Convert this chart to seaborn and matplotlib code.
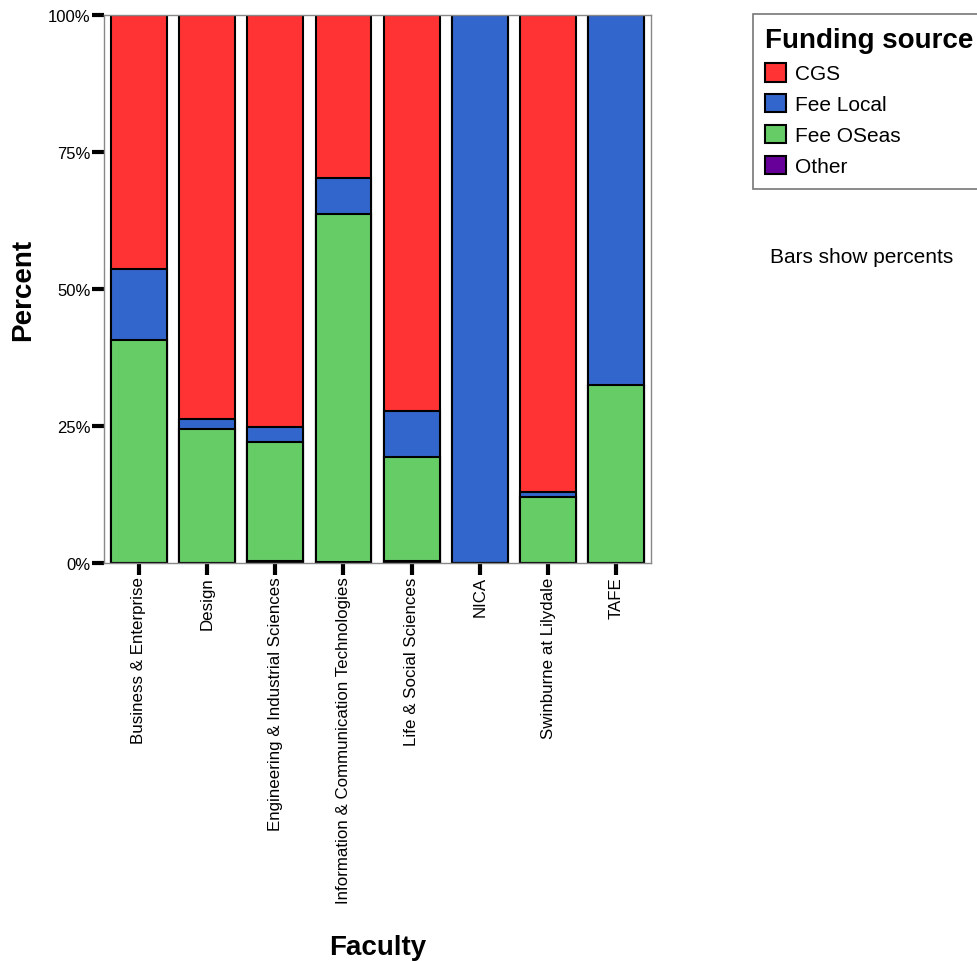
import pandas as pd
import matplotlib.pyplot as plt
import seaborn as sns
from matplotlib.patches import Patch
from matplotlib.ticker import PercentFormatter

faculties = ["Business & Enterprise", "Design", "Engineering & Industrial Sciences",
             "Information & Communication Technologies", "Life & Social Sciences",
             "NICA", "Swinburne at Lilydale", "TAFE"]
sources = ["CGS", "Fee Local", "Fee OSeas", "Other"]

# percent of each faculty by funding source
cgs = [46.4, 73.7, 75.2, 29.7, 72.3, 0.0, 87.1, 0.0]
fee_local = [12.9, 1.8, 2.7, 6.6, 8.4, 100.0, 0.9, 67.5]
fee_oseas = [40.7, 24.5, 21.8, 63.5, 18.9, 0.0, 12.0, 32.5]
other = [0.0, 0.0, 0.3, 0.2, 0.4, 0.0, 0.0, 0.0]

colors = {"CGS": "#ff3333", "Fee Local": "#3366cc", "Fee OSeas": "#66cc66", "Other": "#660099"}

df = pd.DataFrame({"Faculty": faculties, "CGS": cgs, "Fee Local": fee_local,
                   "Fee OSeas": fee_oseas, "Other": other})
# stacked from the bottom: Other, Fee OSeas, Fee Local, CGS
stack = ["Other", "Fee OSeas", "Fee Local", "CGS"]
cum = df[stack].cumsum(axis=1)

sns.set_style("white")
plt.rcParams["font.family"] = ["Liberation Sans", "DejaVu Sans"]
plt.rcParams["text.color"] = "black"
plt.rcParams["axes.labelcolor"] = "black"
plt.rcParams["xtick.color"] = "black"
plt.rcParams["ytick.color"] = "black"

fig = plt.figure(figsize=(9.77, 9.62), dpi=100)
ax = fig.add_axes([0.1064, 0.4137, 0.5602, 0.5697])

# draw tallest layer first so lower segments sit on top
for src in reversed(stack):
    sns.barplot(x=df["Faculty"], y=cum[src], color=colors[src], width=0.82,
                edgecolor="black", linewidth=1.5, saturation=1, ax=ax, order=faculties)

ax.set_xlim(-0.51, 7.51)
ax.set_ylim(0, 100)
ax.set_yticks([0, 25, 50, 75, 100])
ax.yaxis.set_major_formatter(PercentFormatter(decimals=0))
ax.tick_params(axis="both", direction="out", length=8.5, width=3, color="black",
               labelsize=12, pad=1, left=True, bottom=True)
ax.tick_params(axis="x", labelrotation=90, labelsize=12.2)
ax.set_xlabel("Faculty", fontsize=20, fontweight="bold", labelpad=22)
ax.set_ylabel("Percent", fontsize=20, fontweight="bold", labelpad=9)
for sp in ax.spines.values():
    sp.set_color("#888888")
    sp.set_linewidth(1)

handles = [Patch(facecolor=colors[s], edgecolor="black", linewidth=1.5, label=s) for s in sources]
leg = fig.legend(handles=handles, title="Funding source", loc="upper left",
                 bbox_to_anchor=(0.7707, 0.9844), borderaxespad=0, frameon=True, fancybox=False,
                 fontsize=15, handlelength=1.0, handleheight=1.0, handletextpad=0.4,
                 labelspacing=0.5, borderpad=0.6, alignment="left")
leg.get_title().set_fontsize(20)
leg.get_title().set_fontweight("bold")
leg.get_frame().set_edgecolor("#555555")
leg.get_frame().set_linewidth(1.2)

fig.text(0.788, 0.732, "Bars show percents", fontsize=15, va="center")

fig.savefig("out.png", dpi=100)
